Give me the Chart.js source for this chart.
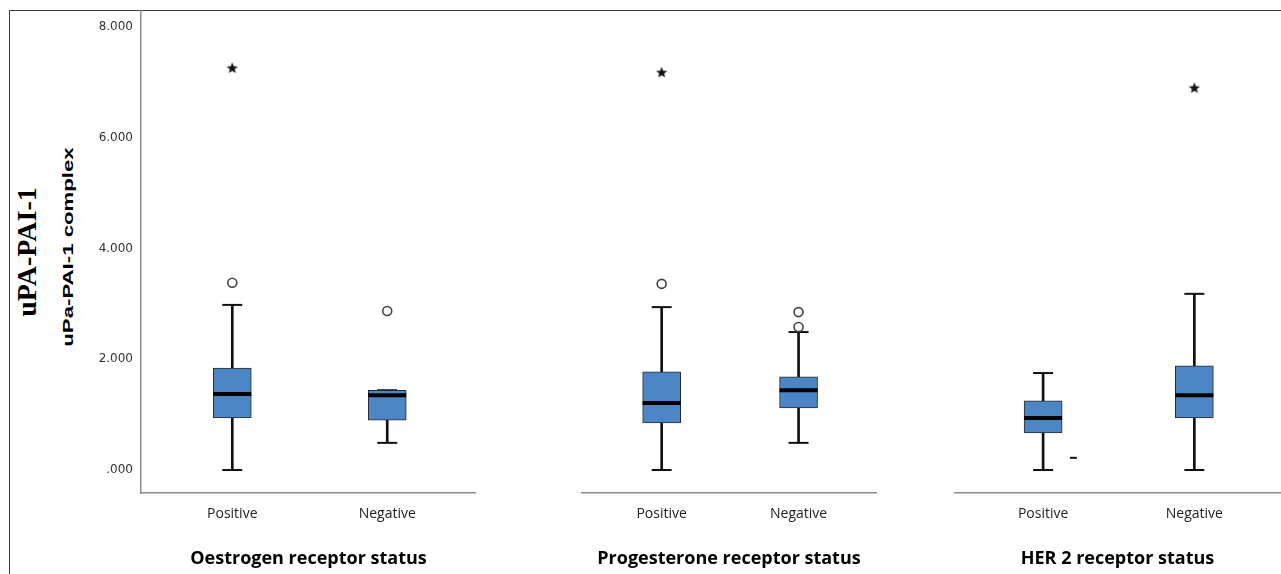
<!DOCTYPE html>
<html lang="en">
<head>
<meta charset="UTF-8">
<title>uPA-PAI-1 complex by receptor status</title>
<script src="https://cdn.jsdelivr.net/npm/chart.js"></script>
<style>
  body { margin: 0; background: #fff; width: 1281px; height: 574px; overflow: hidden; position: relative; }
  #frame { position: absolute; left: 9px; top: 10px; right: 0; bottom: 0; border-top: 1px solid #404040; border-left: 1px solid #404040; }
  .panel { position: absolute; top: 10px; }
  .panel canvas { display: block; }
  .ytitle { position: absolute; white-space: nowrap; line-height: 1; color: #000; }
  #t1 { left: 27px; top: 252px; font: bold 28px "Liberation Serif", serif; transform: translate(-50%, -50%) rotate(-90deg); }
  #t2 { left: 67px; top: 247px; font: bold 15px "Liberation Sans", Arial, sans-serif; transform: translate(-50%, -50%) rotate(-90deg) scaleX(1.48); }
</style>
</head>
<body>
<div id="frame"></div>
<div class="ytitle" id="t1">uPA-PAI-1</div>
<div class="ytitle" id="t2">uPa-PAI-1 complex</div>
<div class="panel" style="left:10px"><canvas id="c0" width="466" height="564"></canvas></div>
<div class="panel" style="left:581px"><canvas id="c1" width="296" height="564"></canvas></div>
<div class="panel" style="left:954px"><canvas id="c2" width="327" height="564"></canvas></div>

<script>
// data (one entry per group, [Positive, Negative])
var groups = ["Oestrogen receptor status", "Progesterone receptor status", "HER 2 receptor status"];
var categories = ["Positive", "Negative"];
var yTicks = [0, 2, 4, 6, 8];

var whiskerLow  = [[0.00, 0.49], [0.00, 0.49], [0.00, 0.00]];
var q1          = [[0.94, 0.90], [0.85, 1.12], [0.67, 0.94]];
var medians     = [[1.37, 1.35], [1.21, 1.44], [0.94, 1.35]];
var q3          = [[1.84, 1.44], [1.77, 1.68], [1.25, 1.88]];
var whiskerHigh = [[2.98, 1.44], [2.94, 2.49], [1.75, 3.18]];
var outliers    = [[[3.38], [2.87]], [[3.36], [2.85, 2.58]], [[], []]];
var extremes    = [[[7.26], []], [[7.18], []], [[], [6.90]]];
var strayMarks  = [[], [], [0.22]];   // small dash next to HER 2 positive

// layout
var boxPos = [0.545, 1.47];
var strayPos = 0.73;
var yMin = -0.415, yMax = 8.303;
var boxColor = "#4C86C6";

function starImage(size) {
    var c = document.createElement("canvas");
    c.width = c.height = size;
    var ctx = c.getContext("2d");
    ctx.fillStyle = "#111";
    ctx.beginPath();
    for (var k = 0; k < 10; k++) {
        var r = k % 2 ? size * 0.21 : size * 0.5;
        var a = -Math.PI / 2 + k * Math.PI / 5;
        ctx.lineTo(size / 2 + r * Math.cos(a), size / 2 + 0.5 + r * Math.sin(a));
    }
    ctx.closePath();
    ctx.fill();
    return c;
}
var star = starImage(12);

function pointsAt(lists) {
    var out = [];
    lists.forEach(function (vals, i) {
        vals.forEach(function (v) { out.push({ x: boxPos[i], y: v }); });
    });
    return out;
}

function buildDatasets(g) {
    var stems = [], caps = [];
    categories.forEach(function (c, i) {
        stems.push({ x: boxPos[i], y: [whiskerLow[g][i], q1[g][i]] });
        stems.push({ x: boxPos[i], y: [q3[g][i], whiskerHigh[g][i]] });
        caps.push({ x: boxPos[i], y: whiskerLow[g][i] });
        caps.push({ x: boxPos[i], y: whiskerHigh[g][i] });
    });
    return [
        {   type: "line", label: "median", order: 0, showLine: false,
            data: medians[g].map(function (v, i) { return { x: boxPos[i], y: v }; }),
            pointStyle: "line", pointRadius: 19, pointBorderWidth: 4, borderColor: "#000", pointBorderColor: "#000" },
        {   type: "line", label: "outliers", order: 0, showLine: false,
            data: pointsAt(outliers[g]),
            pointStyle: "circle", pointRadius: 4.5, pointBorderWidth: 1.6,
            pointBackgroundColor: "#fff", pointBorderColor: "#444" },
        {   type: "line", label: "extremes", order: 0, showLine: false,
            data: pointsAt(extremes[g]), pointStyle: star },
        {   type: "line", label: "stray", order: 0, showLine: false,
            data: strayMarks[g].map(function (v) { return { x: strayPos, y: v }; }),
            pointStyle: "line", pointRadius: 3.5, pointBorderWidth: 2, pointBorderColor: "#111" },
        {   type: "bar", label: "box", order: 1, grouped: false,
            data: q1[g].map(function (v, i) { return { x: boxPos[i], y: [v, q3[g][i]] }; }),
            barThickness: 38, backgroundColor: boxColor, borderColor: "#2a2a2a",
            borderWidth: 1, borderSkipped: false },
        {   type: "line", label: "caps", order: 2, showLine: false, data: caps,
            pointStyle: "line", pointRadius: 10, pointBorderWidth: 2, pointBorderColor: "#111" },
        {   type: "bar", label: "whiskers", order: 3, grouped: false, data: stems,
            barThickness: 2, backgroundColor: "#111", borderWidth: 0 }
    ];
}

function noPadding(s) { s.paddingTop = 0; s.paddingBottom = 0; s.paddingLeft = 0; s.paddingRight = 0; }

groups.forEach(function (title, g) {
    var ctx = document.getElementById("c" + g).getContext("2d");
    new Chart(ctx, {
        type: "bar",
        data: { datasets: buildDatasets(g) },
        options: {
            responsive: false,
            animation: false,
            events: [],
            layout: { padding: 0, autoPadding: false },
            plugins: { legend: { display: false }, tooltip: { enabled: false } },
            scales: {
                x: {
                    type: "linear", min: 0, max: 2, offset: false,
                    grid: { display: false, drawTicks: false },
                    border: { display: true, color: "#8c8c8c", width: 1.5 },
                    afterBuildTicks: function (s) { s.ticks = boxPos.map(function (v) { return { value: v }; }); },
                    afterFit: function (s) { s.height = 81; noPadding(s); },
                    ticks: {
                        autoSkip: false, maxRotation: 0, padding: 13, color: "#222",
                        font: { family: "Open Sans", size: 14 },
                        callback: function (v, i) { return categories[i]; }
                    },
                    title: {
                        display: true, text: title, color: "#000",
                        font: { family: "Open Sans", size: 18, weight: "bold" },
                        padding: { top: 0, bottom: 4 }
                    }
                },
                y: {
                    display: g === 0,
                    min: yMin, max: yMax,
                    grid: { display: false, drawTicks: false },
                    border: { display: true, color: "#8c8c8c", width: 1.5 },
                    afterBuildTicks: function (s) { s.ticks = yTicks.map(function (v) { return { value: v }; }); },
                    afterFit: function (s) { s.width = g === 0 ? 131 : 0; noPadding(s); },
                    ticks: {
                        padding: 8, color: "#333",
                        font: { family: "DejaVu Sans", size: 12 },
                        callback: function (v) { return v.toFixed(3).replace(/^0/, ""); }
                    }
                }
            }
        }
    });
});
</script>
</body>
</html>
